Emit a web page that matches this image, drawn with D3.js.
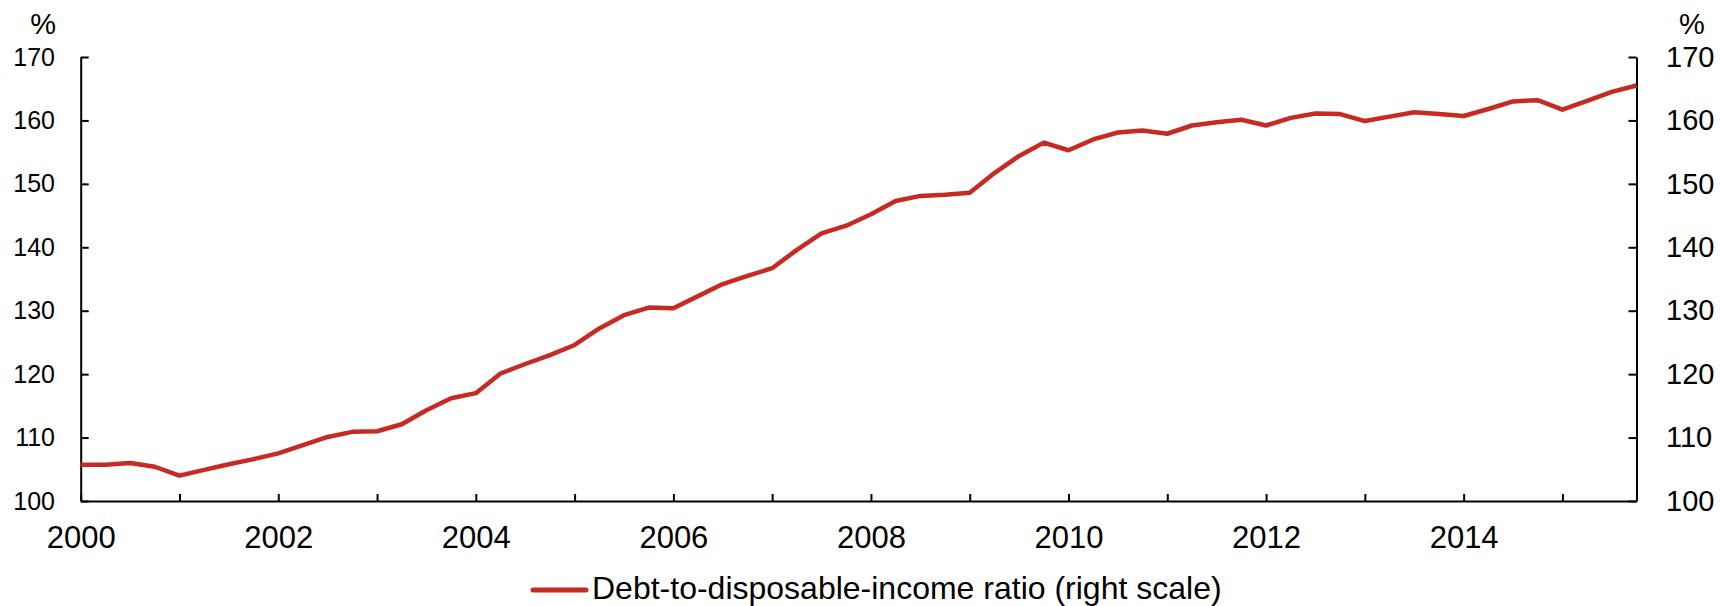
<!DOCTYPE html>
<html>
<head>
<meta charset="utf-8">
<script src="https://cdn.jsdelivr.net/npm/d3@7.9.0/dist/d3.min.js"></script>
<style>
  body { margin: 0; background: #fff; }
  svg { display: block; font-family: "Liberation Sans", Arial, sans-serif; }
</style>
</head>
<body>
<div id="chart"></div>
<script>
// quarterly data, 2000 Q1 to 2015 Q4
const years = [2000, 2001, 2002, 2003, 2004, 2005, 2006, 2007,
               2008, 2009, 2010, 2011, 2012, 2013, 2014, 2015];
const quarterOffsets = [0, 0.25, 0.5, 0.75];
const debtRatio = [
  105.7, 105.7, 106.0, 105.4,
  104.0, 104.9, 105.8, 106.6,
  107.5, 108.8, 110.1, 110.9,
  111.0, 112.1, 114.3, 116.2,
  117.0, 120.1, 121.6, 123.0,
  124.6, 127.2, 129.3, 130.5,
  130.4, 132.3, 134.2, 135.5,
  136.7, 139.6, 142.2, 143.4,
  145.2, 147.3, 148.1, 148.3,
  148.6, 151.7, 154.4, 156.5,
  155.3, 157.0, 158.1, 158.4,
  157.9, 159.2, 159.7, 160.1,
  159.2, 160.4, 161.1, 161.0,
  159.9, 160.6, 161.3, 161.0,
  160.7, 161.8, 163.0, 163.2,
  161.7, 163.1, 164.5, 165.5
];
const yTicks = [100, 110, 120, 130, 140, 150, 160, 170];
const xLabelYears = [2000, 2002, 2004, 2006, 2008, 2010, 2012, 2014];
const legendLabel = 'Debt-to-disposable-income ratio (right scale)';
const unitLabel = '%';

const width = 1720;
const height = 606;
const red = '#c62a22';

const dates = years.flatMap(y => quarterOffsets.map(o => y + o));
const data = dates.map((t, i) => ({ t, v: debtRatio[i] }));

const svg = d3.select('#chart')
  .append('svg')
  .attr('width', width)
  .attr('height', height);

const xScale = d3.scaleLinear()
  .domain([2000, d3.max(dates)])
  .range([80.7, 1636.5]);
const yScale = d3.scaleLinear()
  .domain([100, 170])
  .range([501, 57]);

// left axis
const yAxisLeft = d3.axisLeft(yScale)
  .tickValues(yTicks)
  .tickSizeInner(-8)
  .tickSizeOuter(0)
  .tickPadding(25.7);
const gl = svg.append('g')
  .attr('transform', `translate(${xScale.range()[0]},0)`)
  .call(yAxisLeft);
gl.selectAll('text').attr('font-size', 25).attr('fill', '#000');

// right axis
const yAxisRight = d3.axisRight(yScale)
  .tickValues(yTicks)
  .tickSizeInner(-8)
  .tickSizeOuter(0)
  .tickPadding(29.5);
const gr = svg.append('g')
  .attr('transform', `translate(${xScale.range()[1]},0)`)
  .call(yAxisRight);
gr.selectAll('text').attr('font-size', 29).attr('fill', '#000');

// bottom axis
const xAxis = d3.axisBottom(xScale)
  .tickValues(years)
  .tickSizeInner(-7)
  .tickSizeOuter(0)
  .tickPadding(25)
  .tickFormat(d => xLabelYears.includes(d) ? String(d) : '');
const gx = svg.append('g')
  .attr('transform', `translate(0,${yScale.range()[0]})`)
  .call(xAxis);
gx.selectAll('text').attr('font-size', 31).attr('fill', '#000');

svg.selectAll('.domain, .tick line')
  .attr('stroke', '#000')
  .attr('stroke-width', 2);

// unit labels
svg.append('text')
  .attr('x', 56).attr('y', 34)
  .attr('text-anchor', 'end')
  .attr('font-size', 29)
  .text(unitLabel);
svg.append('text')
  .attr('x', 1692).attr('y', 34)
  .attr('text-anchor', 'middle')
  .attr('font-size', 29)
  .text(unitLabel);

// series
const line = d3.line()
  .x(d => xScale(d.t))
  .y(d => yScale(d.v));
svg.append('path')
  .datum(data)
  .attr('fill', 'none')
  .attr('stroke', red)
  .attr('stroke-width', 4.5)
  .attr('stroke-linejoin', 'round')
  .attr('d', line);

// legend
const legend = svg.append('g').attr('transform', 'translate(533,590)');
legend.append('line')
  .attr('x1', 0).attr('x2', 53)
  .attr('y1', 0).attr('y2', 0)
  .attr('stroke', red)
  .attr('stroke-width', 5)
  .attr('stroke-linecap', 'round');
legend.append('text')
  .attr('x', 59).attr('y', 9)
  .attr('font-size', 32)
  .text(legendLabel);
</script>
</body>
</html>
